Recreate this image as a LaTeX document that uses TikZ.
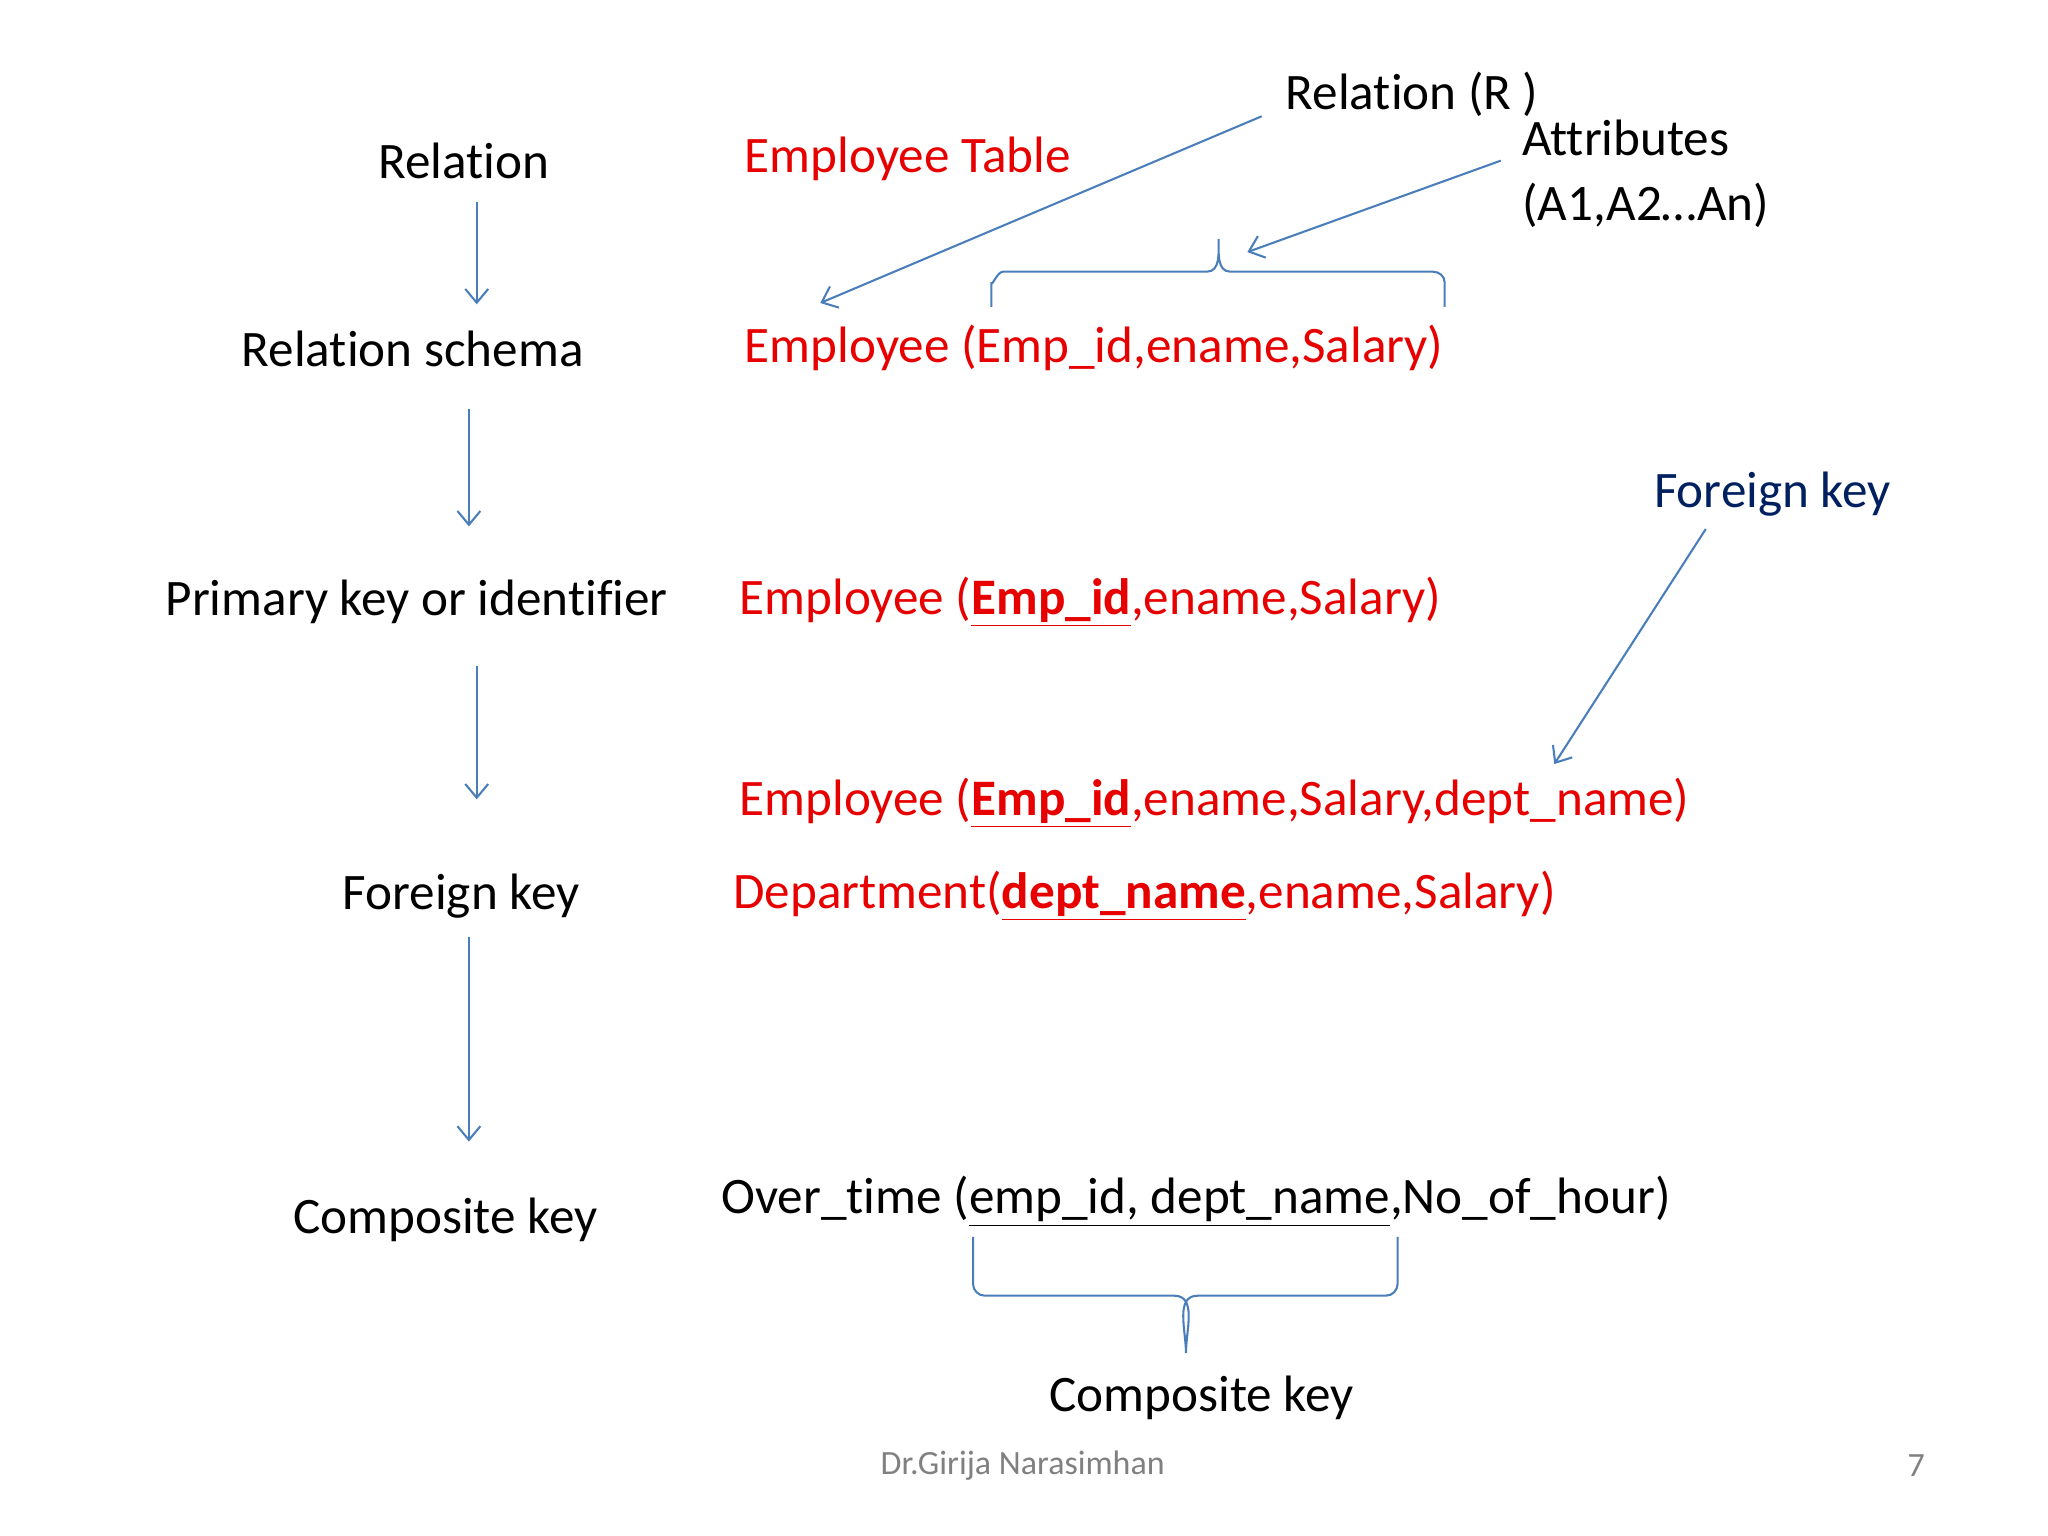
\documentclass[tikz,border=0pt]{standalone}
\usepackage{fontspec}
\setmainfont[Ligatures=NoCommon]{Carlito}
\begin{document}
\begin{tikzpicture}[x=0.02cm,y=-0.02cm,
  t/.style={inner sep=0pt,font=\fontsize{22.3}{26}\selectfont},
  r/.style={t,text={rgb,255:red,230;green,0;blue,0},anchor=west},
  ar/.style={draw={rgb,255:red,74;green,126;blue,187},line width=0.9pt,-{Straight Barb[length=6pt,width=10pt]}},
  br/.style={draw={rgb,255:red,74;green,126;blue,187},line width=0.9pt}]
\usetikzlibrary{arrows.meta}
\path[use as bounding box] (0,0) rectangle (1568,1176);
\node[t] (rel) at (355,123) {Relation};
\node[t] (rs) at (316,267) {Relation schema};
\node[t] (pk) at (319,461) {Primary key or identifier};
\node[t] (fk) at (353,686) {Foreign key};
\node[t] (ck) at (341,934) {Composite key};
\node[r] (et) at (570,122) {Employee Table};
\node[t,anchor=west] (rr) at (984,72) {Relation (R )};
\node[t,anchor=west,align=left] (att) at (1165,133) {Attributes\\[2pt](A1,A2…An)};
\node[r] (e1) at (570,266) {Employee (Emp\_id,ename,Salary)};
\node[t,anchor=west,text={rgb,255:red,0;green,32;blue,96}] (fkl) at (1266,378) {Foreign key};
\node[r] (e2) at (566,461) {Employee (\underline{\textbf{Emp\_id}},ename,Salary)};
\node[r] (e3) at (566,615) {Employee (\underline{\textbf{Emp\_id}},ename,Salary,dept\_name)};
\node[r] (d1) at (561,686) {Department(\underline{\textbf{dept\_name}},ename,Salary)};
\node[t,anchor=west] (ot) at (552,920) {Over\_time (\underline{emp\_id, dept\_name},No\_of\_hour)};
\node[t] (ckl) at (920,1070) {Composite key};
\node[inner sep=0pt,text={rgb,255:red,128;green,128;blue,128},font=\fontsize{14.8}{17}\selectfont] (ft) at (783,1122) {Dr.Girija Narasimhan};
\node[inner sep=0pt,text={rgb,255:red,128;green,128;blue,128},font=\fontsize{14.8}{17}\selectfont] (pg) at (1467,1122) {7};
\coordinate (a1s) at (365,155); \coordinate (a1e) at (365,233);
\coordinate (a2s) at (359,313); \coordinate (a2e) at (359,403);
\coordinate (a3s) at (365,510); \coordinate (a3e) at (365,612);
\coordinate (a4s) at (359,717); \coordinate (a4e) at (359,874);
\draw[ar] (a1s) -- (a1e);
\draw[ar] (a2s) -- (a2e);
\draw[ar] (a3s) -- (a3e);
\draw[ar] (a4s) -- (a4e);
\coordinate (rrs) at (966,89); \coordinate (rre) at (628,232);
\coordinate (ats) at (1149,123); \coordinate (ate) at (955,193);
\coordinate (fks) at (1306,405); \coordinate (fke) at (1190,585);
\draw[ar] (rrs) -- (rre);
\draw[ar] (ats) -- (ate);
\draw[ar] (fks) -- (fke);
\draw[br] (759,235) -- (759,216) to[out=-90,in=180] (768,208) -- (924,208) to[out=0,in=-90] (933,183) to[out=-90,in=180] (942,208) -- (1097,208) to[out=0,in=90] (1106,216) -- (1106,235);
\draw[br] (745,947) -- (745,983) to[out=-90,in=180] (754,992) -- (899,992) to[out=0,in=90] (908,1036) to[out=90,in=180] (917,992) -- (1061,992) to[out=0,in=-90] (1070,983) -- (1070,947);
\end{tikzpicture}
\end{document}
